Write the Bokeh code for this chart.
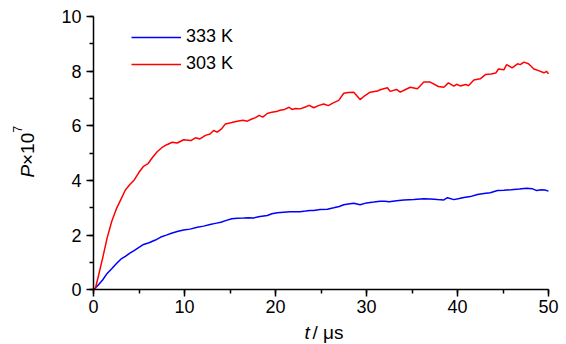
from bokeh.plotting import figure
from bokeh.models import (Range1d, SingleIntervalTicker, Legend, LegendItem, Label)
from bokeh.embed import file_html
from bokeh.resources import INLINE
import math

# ---- data ----
t_303 = [0, 0.2, 0.5, 1.0, 1.5, 2.0, 2.5, 3.0, 3.5, 4.0, 4.5, 5.0, 5.5, 6.0, 6.5, 7.0,
         7.5, 8.0, 8.65, 9.2, 9.9, 10.7, 11.2, 11.7, 12.3, 12.8, 13.2, 13.6, 14.1, 14.5,
         15.2, 15.8, 16.4, 16.9, 17.4, 17.8, 18.2, 18.6, 19.1, 19.6, 20.1, 20.5, 21.0,
         21.5, 21.8, 22.2, 22.7, 23.2, 23.7, 24.2, 24.7, 25.3, 25.8, 26.4, 26.95, 27.5,
         28.0, 28.6, 29.3, 29.8, 30.4, 31.2, 31.5, 32.3, 32.6, 33.3, 33.7, 34.3, 34.8,
         35.6, 36.3, 37.0, 37.9, 38.5, 39.0, 39.6, 39.9, 40.3, 40.9, 41.2, 41.8, 42.5,
         43.1, 43.7, 44.2, 44.5, 45.1, 45.4, 46.0, 46.6, 46.9, 47.3, 47.8, 48.4, 48.9,
         49.5, 49.8, 50.0]
p_303 = [0, 0.04, 0.45, 1.15, 1.9, 2.5, 2.95, 3.3, 3.65, 3.85, 4.03, 4.3, 4.52, 4.62,
         4.85, 5.05, 5.2, 5.3, 5.40, 5.37, 5.49, 5.46, 5.56, 5.52, 5.65, 5.70, 5.83, 5.77,
         5.90, 6.07, 6.12, 6.17, 6.20, 6.17, 6.25, 6.30, 6.38, 6.32, 6.45, 6.50, 6.52,
         6.57, 6.60, 6.68, 6.60, 6.63, 6.62, 6.68, 6.75, 6.66, 6.74, 6.80, 6.74, 6.85,
         6.93, 7.19, 7.22, 7.23, 6.96, 7.10, 7.23, 7.27, 7.32, 7.39, 7.26, 7.33, 7.23,
         7.33, 7.41, 7.36, 7.60, 7.60, 7.44, 7.41, 7.57, 7.45, 7.52, 7.46, 7.51, 7.47,
         7.68, 7.72, 7.88, 7.90, 7.93, 8.08, 8.05, 8.24, 8.12, 8.27, 8.24, 8.33, 8.27,
         8.08, 8.02, 7.94, 7.99, 7.90]

t_333 = [0, 0.5, 1.0, 1.5, 2.0, 2.5, 3.0, 3.5, 4.0, 4.5, 5.0, 5.5, 6.1, 6.8, 7.4, 8.0,
         8.65, 9.3, 9.9, 10.6, 11.4, 12.1, 12.8, 13.4, 14.0, 14.6, 15.2, 15.8, 16.5, 17.0,
         17.6, 18.3, 19.1, 19.6, 20.2, 20.9, 21.6, 22.2, 22.7, 23.3, 23.8, 24.2, 24.9,
         25.7, 26.4, 27.0, 27.5, 28.0, 28.6, 29.3, 30.0, 30.8, 31.5, 32.0, 32.5, 33.3,
         34.1, 35.2, 36.3, 37.0, 37.8, 38.5, 38.9, 39.6, 40.2, 40.7, 41.4, 42.2, 42.9,
         43.6, 44.4, 45.1, 45.9, 46.8, 47.6, 48.2, 48.7, 49.2, 49.6, 50.0]
p_333 = [0, 0.17, 0.36, 0.6, 0.77, 0.95, 1.12, 1.22, 1.34, 1.44, 1.55, 1.66, 1.72, 1.82,
         1.93, 2.0, 2.08, 2.14, 2.19, 2.22, 2.29, 2.33, 2.39, 2.43, 2.47, 2.54, 2.60, 2.62,
         2.63, 2.64, 2.63, 2.68, 2.72, 2.78, 2.82, 2.84, 2.86, 2.86, 2.86, 2.88, 2.90,
         2.90, 2.94, 2.95, 3.00, 3.05, 3.11, 3.14, 3.17, 3.11, 3.18, 3.21, 3.24, 3.24,
         3.22, 3.26, 3.29, 3.30, 3.33, 3.32, 3.30, 3.29, 3.37, 3.30, 3.34, 3.38, 3.41,
         3.49, 3.52, 3.55, 3.63, 3.64, 3.66, 3.69, 3.72, 3.70, 3.63, 3.66, 3.65, 3.61]

series_labels = ["333 K", "303 K"]
series_colors = ["#0000ff", "#ff0000"]
x_bounds = (0, 50)
y_bounds = (0, 10)

FONT = "Liberation Sans, Arial, sans-serif"

W, H = 562, 344
# pixel layout of the plotting area inside the canvas
X0_PX, X1_PX = 93.0, 548.0      # x = 0 and x = 50
Y1_PX, Y0_PX = 16.0, 289.3      # y = 10 and y = 0
sx = (X1_PX - X0_PX) / (x_bounds[1] - x_bounds[0])
sy = (Y0_PX - Y1_PX) / (y_bounds[1] - y_bounds[0])
x_rng = Range1d(-X0_PX / sx, (W - X0_PX) / sx)
y_rng = Range1d(-(H - Y0_PX) / sy, Y0_PX / sy)


def px_to_data(px, py):
    return (px - X0_PX) / sx, (Y0_PX - py) / sy


p = figure(width=W, height=H, output_backend="svg", toolbar_location=None,
           x_range=x_rng, y_range=y_rng,
           min_border_left=0, min_border_right=0, min_border_top=0, min_border_bottom=0)
p.outline_line_color = None
p.xgrid.visible = False
p.ygrid.visible = False
p.background_fill_color = "white"
p.border_fill_color = "white"

p.xaxis.ticker = SingleIntervalTicker(interval=10, num_minor_ticks=2)
p.yaxis.ticker = SingleIntervalTicker(interval=2, num_minor_ticks=2)
p.xaxis.fixed_location = 0
p.yaxis.fixed_location = 0
p.xaxis.bounds = x_bounds
p.yaxis.bounds = y_bounds
for ax in (p.xaxis[0], p.yaxis[0]):
    ax.axis_line_width = 1.5
    ax.axis_line_color = "black"
    ax.major_tick_line_width = 1.5
    ax.minor_tick_line_width = 1.5
    ax.major_tick_line_color = "black"
    ax.minor_tick_line_color = "black"
    ax.major_tick_in = 0
    ax.major_tick_out = 7
    ax.minor_tick_in = 0
    ax.minor_tick_out = 4
    ax.major_label_text_font = FONT
    ax.major_label_text_font_size = "18px"
    ax.major_label_text_color = "black"
p.yaxis.major_label_standoff = 5
p.xaxis.major_label_standoff = 3

r333 = p.line(t_333, p_333, line_color=series_colors[0], line_width=1.5)
r303 = p.line(t_303, p_303, line_color=series_colors[1], line_width=1.5)

legend = Legend(items=[LegendItem(label=series_labels[0], renderers=[r333]),
                       LegendItem(label=series_labels[1], renderers=[r303])],
                location=(131, H - 74), orientation="vertical",
                glyph_width=50, glyph_height=20, label_height=20, label_standoff=5,
                spacing=6, padding=0, margin=0,
                border_line_color=None, background_fill_alpha=0,
                label_text_font=FONT, label_text_font_size="18px",
                label_text_color="black")
p.add_layout(legend)

# y axis title  P×10^7 (P italic, 7 superscript), rotated
lx, ly = px_to_data(26.5, 177.0)
p.add_layout(Label(x=lx, y=ly, text="P", angle=math.pi / 2,
                   text_font=FONT, text_font_size="19px", text_font_style="italic",
                   text_align="left", text_baseline="alphabetic", text_color="black"))
lx, ly = px_to_data(26.5, 164.5)
p.add_layout(Label(x=lx, y=ly, text="×10", angle=math.pi / 2,
                   text_font=FONT, text_font_size="19px",
                   text_align="left", text_baseline="alphabetic", text_color="black"))
lx, ly = px_to_data(17.0, 132.0)
p.add_layout(Label(x=lx, y=ly, text="7", angle=math.pi / 2,
                   text_font=FONT, text_font_size="12px",
                   text_align="left", text_baseline="alphabetic", text_color="black"))

# x axis title  t / μs (t italic)
lx, ly = px_to_data(304.0, 332.0)
p.add_layout(Label(x=lx, y=ly, text="t",
                   text_font=FONT, text_font_size="19px", text_font_style="italic",
                   text_align="left", text_baseline="alphabetic", text_color="black"))
lx, ly = px_to_data(312.0, 332.0)
p.add_layout(Label(x=lx, y=ly, text="/ μs",
                   text_font=FONT, text_font_size="19px",
                   text_align="left", text_baseline="alphabetic", text_color="black"))

open("out.html", "w").write(file_html(p, INLINE))
